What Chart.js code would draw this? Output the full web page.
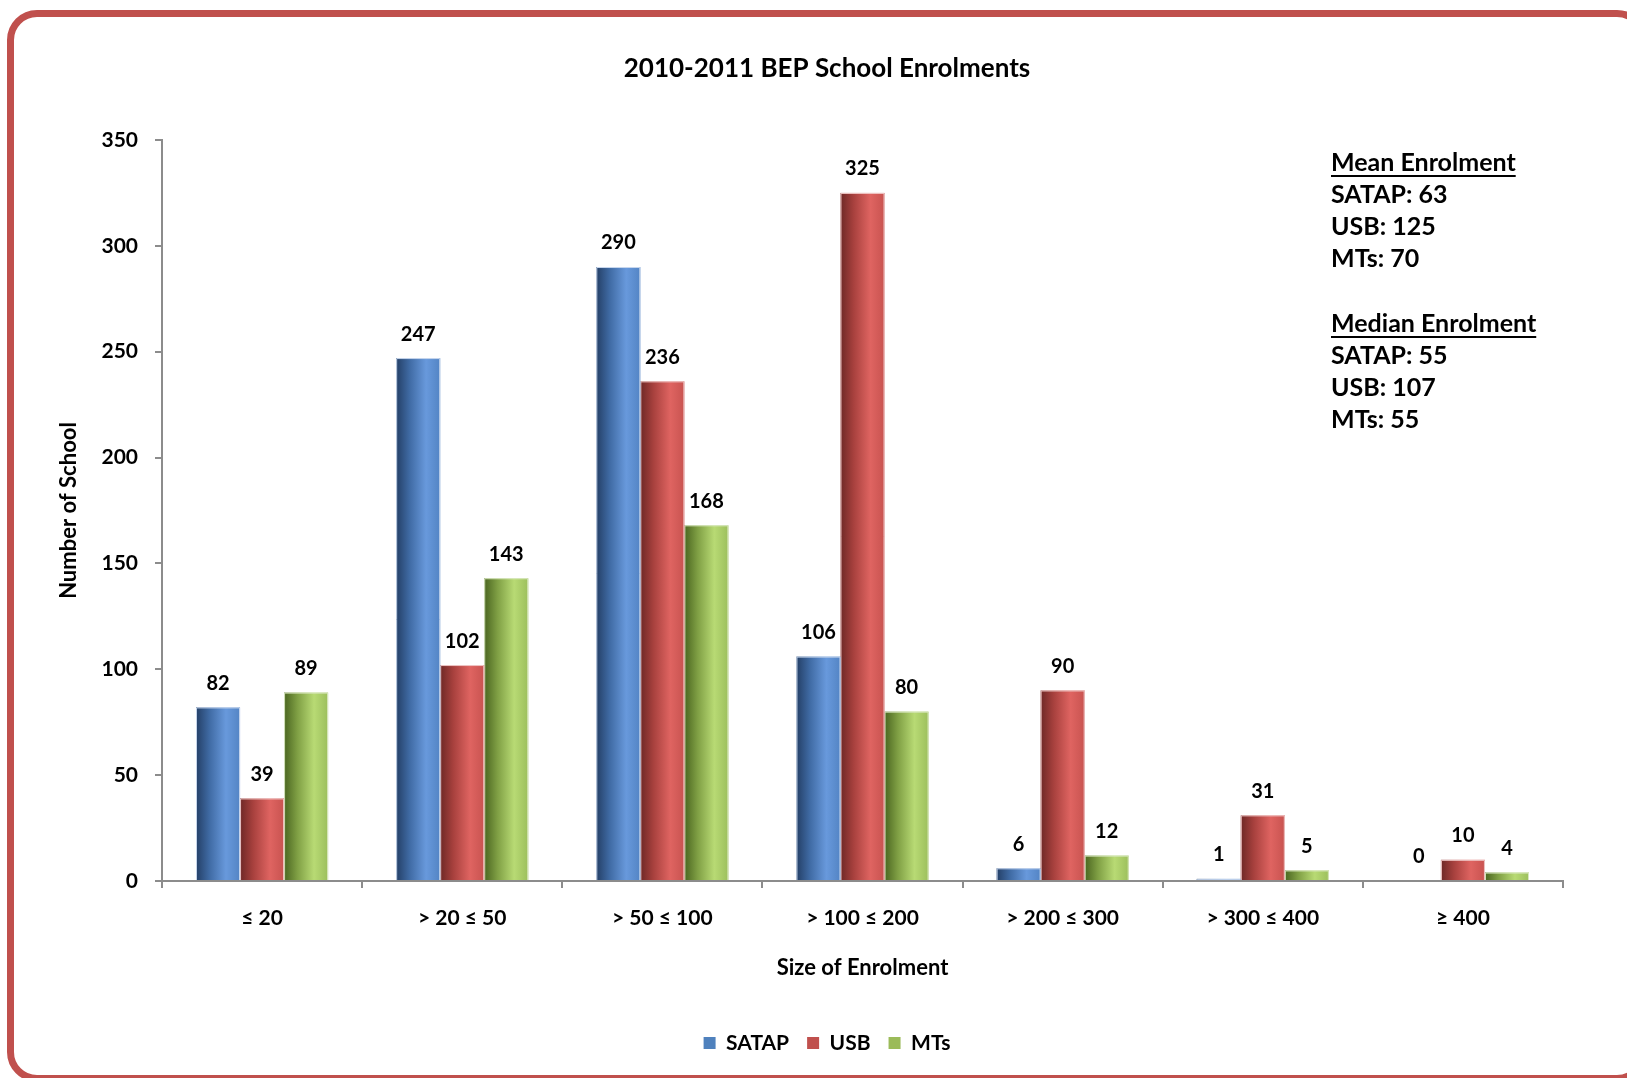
<!DOCTYPE html>
<html>
<head>
<meta charset="utf-8">
<title>2010-2011 BEP School Enrolments</title>
<script src="https://cdn.jsdelivr.net/npm/chart.js@4.4.1/dist/chart.umd.min.js"></script>
<style>
  html,body{margin:0;padding:0;background:#fff;overflow:hidden;}
  #wrap{position:relative;width:1627px;height:1078px;overflow:hidden;}
  #frame{position:absolute;left:7px;top:10px;width:1640px;height:1072px;
    border:7px solid #c0504d;border-radius:30px;box-sizing:border-box;}
  canvas{position:absolute;left:0;top:0;}
</style>
</head>
<body>
<div id="wrap">
  <div id="frame"></div>
  <canvas id="chart" width="1627" height="1078"></canvas>
</div>
<script>
  // ---- data ----
  const CATEGORIES = ['\u2264 20', '> 20 \u2264 50', '> 50 \u2264 100', '> 100 \u2264 200', '> 200 \u2264 300', '> 300 \u2264 400', '\u2265 400'];
  const SERIES_NAMES = ['SATAP', 'USB', 'MTs'];
  const SATAP = [82, 247, 290, 106, 6, 1, 0];
  const USB   = [39, 102, 236, 325, 90, 31, 10];
  const MTS   = [89, 143, 168, 80, 12, 5, 4];
  const Y_MIN = 0, Y_MAX = 350, Y_STEP = 50;
  const MEAN_HEAD = 'Mean Enrolment';
  const MEAN_LINES = ['SATAP: 63', 'USB: 125', 'MTs: 70'];
  const MEDIAN_HEAD = 'Median Enrolment';
  const MEDIAN_LINES = ['SATAP: 55', 'USB: 107', 'MTs: 55'];

  const FONT = 'Lato, "Open Sans", sans-serif';
  const BASE = ['#4f81bd', '#c0504d', '#9bbb59'];
  // horizontal "cylinder" shading, Excel 2007 style
  const SHADES = [
    [[0,'#243f66'],[0.3,'#3f6aa3'],[0.68,'#6899dc'],[1,'#5384c4']],
    [[0,'#6e2826'],[0.3,'#a8413e'],[0.68,'#df6461'],[1,'#c85350']],
    [[0,'#4a6520'],[0.3,'#7f9f44'],[0.68,'#b8da74'],[1,'#9cbf5c']]
  ];
  const EDGE = ['#c9d8ee', '#f0c8c7', '#dbe9c3'];

  const gradientBars = {
    id:'gradientBars',
    beforeDatasetDraw(chart, args){
      const ctx = chart.ctx, i = args.index;
      ctx.save();
      args.meta.data.forEach(bar => {
        const p = bar.getProps(['x','y','base','width'], true);
        const l = p.x - p.width/2, top = Math.min(p.y, p.base), h = Math.abs(p.base - p.y);
        if (h <= 0) return;
        const g = ctx.createLinearGradient(l, 0, l + p.width, 0);
        SHADES[i].forEach(s => g.addColorStop(s[0], s[1]));
        ctx.fillStyle = g;
        ctx.fillRect(l, top, p.width, h);
        ctx.strokeStyle = EDGE[i]; ctx.lineWidth = 1;
        ctx.beginPath(); ctx.moveTo(l + 0.5, top + h); ctx.lineTo(l + 0.5, top + 0.5);
        ctx.lineTo(l + p.width - 0.5, top + 0.5); ctx.lineTo(l + p.width - 0.5, top + h); ctx.stroke();
      });
      ctx.restore();
      return false;
    }
  };

  const valueLabels = {
    id:'valueLabels',
    afterDatasetsDraw(chart){
      const ctx = chart.ctx;
      ctx.save();
      ctx.font = 'bold 20px ' + FONT; ctx.fillStyle = '#000';
      ctx.textAlign = 'center'; ctx.textBaseline = 'middle';
      chart.data.datasets.forEach((ds, di) => {
        chart.getDatasetMeta(di).data.forEach((bar, k) => {
          ctx.fillText(String(ds.data[k]), bar.x, bar.y - 24);
        });
      });
      ctx.restore();
    }
  };

  const notes = {
    id:'notes',
    afterDraw(chart){
      const ctx = chart.ctx, x = 1331;
      ctx.save();
      ctx.font = 'bold 25px ' + FONT; ctx.fillStyle = '#000';
      ctx.textAlign = 'left'; ctx.textBaseline = 'middle';
      const block = (head, lines, y0) => {
        ctx.fillText(head, x, y0);
        const w = ctx.measureText(head).width;
        ctx.fillRect(x, y0 + 12, w, 2);
        lines.forEach((t, k) => ctx.fillText(t, x, y0 + 32 * (k + 1)));
      };
      block(MEAN_HEAD, MEAN_LINES, 163);
      block(MEDIAN_HEAD, MEDIAN_LINES, 324);
      ctx.restore();
    }
  };

  const mk = (name, data, c) => ({label:name, data, backgroundColor:c, borderWidth:0,
    barPercentage:1, categoryPercentage:0.66});

  new Chart(document.getElementById('chart'), {
    type:'bar',
    data:{
      labels:CATEGORIES,
      datasets:[mk(SERIES_NAMES[0], SATAP, BASE[0]), mk(SERIES_NAMES[1], USB, BASE[1]), mk(SERIES_NAMES[2], MTS, BASE[2])]
    },
    options:{
      responsive:false, animation:false, devicePixelRatio:1,
      layout:{padding:{left:91, right:64, top:0, bottom:14.5}},
      plugins:{
        title:{display:true, text:'2010-2011 BEP School Enrolments', color:'#000',
          font:{family:FONT, size:26, weight:'bold', lineHeight:1.2}, padding:{top:53.4, bottom:55.4}},
        legend:{position:'bottom',
          labels:{boxWidth:12, boxHeight:12, padding:18, color:'#000', font:{family:FONT, size:21, weight:'bold'}}},
        tooltip:{enabled:false}
      },
      scales:{
        x:{
          grid:{drawOnChartArea:false, offset:true, tickLength:7, color:'#8c8c8c', lineWidth:2},
          border:{color:'#8c8c8c', width:2},
          ticks:{color:'#000', padding:18, maxRotation:0, autoSkip:false, font:{family:FONT, size:21, weight:'bold'}},
          title:{display:true, text:'Size of Enrolment', color:'#000', padding:{top:0, bottom:33.3},
            font:{family:FONT, size:22, weight:'bold', lineHeight:1.2}},
          afterFit(s){ s.height = 133.5; }
        },
        y:{
          min:Y_MIN, max:Y_MAX,
          grid:{drawOnChartArea:false, tickLength:7, color:'#8c8c8c', lineWidth:2},
          border:{color:'#8c8c8c', width:2},
          ticks:{stepSize:Y_STEP, color:'#000', padding:17, font:{family:FONT, size:21, weight:'bold'}},
          title:{display:true, text:'Number of School', color:'#000', padding:{top:-35.2, bottom:0},
            font:{family:FONT, size:22, weight:'bold', lineHeight:1.2}},
          afterFit(s){ s.width = 71; }
        }
      }
    },
    plugins:[gradientBars, valueLabels, notes]
  });
</script>
</body>
</html>
